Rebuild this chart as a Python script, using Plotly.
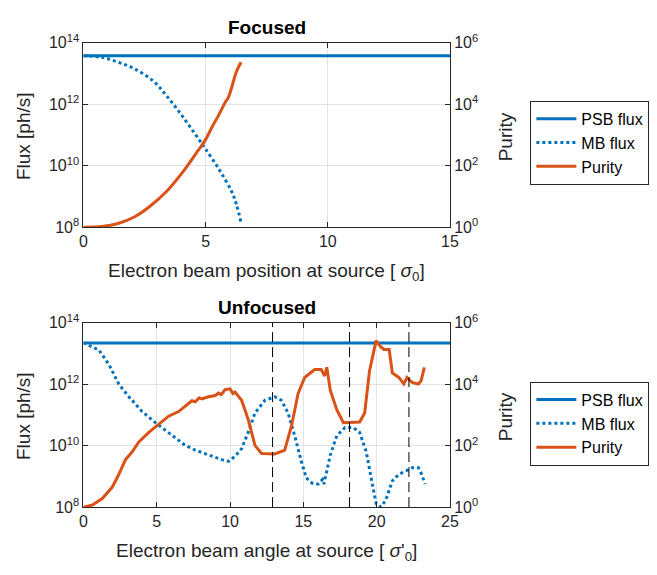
import plotly.graph_objects as go

# ---------------- data ----------------
# Focused
foc_psb_x = [0, 15]
foc_psb = [3.8e13, 3.8e13]
foc_mb_x = [0, 0.76, 1.42, 2.08, 2.88, 3.41, 4.07, 4.73, 5.0, 5.53, 6.06, 6.26, 6.45]
foc_mb = [3.8e13, 3.39e13, 2.34e13, 1.45e13, 5.5e12, 1.86e12, 3.9e11, 7.1e10, 3.47e10, 8.1e9, 1.48e9, 5.6e8, 1.41e8]
foc_pur_x = [0, 0.76, 1.42, 2.08, 2.75, 3.41, 4.07, 4.73, 5.0, 5.27, 5.53, 5.80, 5.93, 6.06, 6.26, 6.45]
foc_pur = [1.0, 1.05, 1.32, 2.14, 5.0, 14.8, 63, 347, 708, 1860, 4370, 11500, 16600, 33900, 115000, 234000]

# Unfocused
unf_psb_x = [0, 25]
unf_psb = [2.2e13, 2.2e13]
unf_mb_x = [0, 1.06, 1.74, 2.42, 3.10, 4.0, 4.91, 5.81, 6.95, 7.62, 8.53, 9.43, 9.89, 10.34, 10.79,
            11.24, 11.70, 12.38, 13.05, 13.5, 13.96, 14.41, 14.86, 15.2, 15.6, 16.0, 16.3, 16.4,
            16.84, 17.28, 17.84, 18.40, 18.84, 19.29, 19.62, 19.96, 20.29, 20.62, 21.07, 21.51,
            21.96, 22.41, 22.85, 23.07, 23.30]
unf_mb = [2.24e13, 1.29e13, 4.4e12, 1.0e12, 3.9e11, 1.29e11, 5.6e10, 2.7e10, 1.02e10, 7.2e9, 5.0e9,
          3.5e9, 3.1e9, 4.5e9, 8.1e9, 2.7e10, 1.15e11, 3.0e11, 3.9e11, 3.0e11, 1.15e11, 2.1e10,
          3.1e9, 8.9e8, 6.0e8, 5.6e8, 7.9e8, 5.6e8, 5.0e9, 2.1e10, 3.9e10, 3.9e10, 2.7e10, 6.3e9,
          9.1e8, 1.32e8, 1.0e8, 1.7e8, 7.2e8, 1.17e9, 1.48e9, 1.9e9, 1.9e9, 1.17e9, 5.6e8]
unf_pur_x = [0, 0.61, 1.29, 1.97, 2.42, 2.87, 3.33, 3.78, 4.46, 5.14, 5.81, 6.49, 7.17, 7.4, 7.62,
             7.9, 8.08, 8.53, 9.0, 9.21, 9.4, 9.66, 10.0, 10.2, 10.34, 10.55, 10.79, 11.24, 11.70,
             12.15, 13.05, 13.73, 14.19, 14.64, 15.09, 15.77, 16.22, 16.45, 16.6, 16.84, 17.28,
             17.73, 18.17, 18.84, 19.18, 19.51, 19.96, 20.29, 20.51, 20.85, 21.07, 21.51, 21.85,
             22.07, 22.41, 22.85, 23.03, 23.25]
unf_pur = [1.0, 1.17, 1.9, 4.5, 11.7, 35, 63, 132, 269, 490, 912, 1290, 2400, 2900, 2690,
           3600, 3300, 3890, 4300, 5130, 4600, 6610, 7080, 5000, 5600, 4300, 3020, 708, 102,
           56, 54, 72, 437, 4900, 16600, 30200, 30200, 18600, 35500, 6310, 1480,
           562, 562, 589, 1150, 26900, 263000, 162000, 135000, 135000, 23400, 16600, 10200,
           16600, 11500, 10200, 12900, 35500]
unf_dashed_x = [12.9, 18.15, 22.2]

flux_tickvals = [1e8, 1e10, 1e12, 1e14]
flux_ticktext = ["10<sup>8</sup>", "10<sup>10</sup>", "10<sup>12</sup>", "10<sup>14</sup>"]
pur_tickvals = [1, 1e2, 1e4, 1e6]
pur_ticktext = ["10<sup>0</sup>", "10<sup>2</sup>", "10<sup>4</sup>", "10<sup>6</sup>"]
names = ["PSB flux", "MB flux", "Purity"]

BLUE = "#0072BD"
ORANGE = "#D95319"
AX = "#262626"
GRID = "#e3e3e3"
FONT = "Liberation Sans, Arial, sans-serif"

W, H = 657, 575
xd = [81 / W, 455 / W]
top_d = [1 - 224 / H, 1 - 33 / H]
bot_d = [1 - 514 / H, 1 - 323 / H]

fig = go.Figure()

def add_panel(psb_x, psb, mb_x, mb, pur_x, pur, xa, ya_flux, ya_pur, legend, smooth):
    shape = "spline" if smooth else "linear"
    fig.add_trace(go.Scatter(x=psb_x, y=psb, mode="lines", name=names[0], xaxis=xa, yaxis=ya_flux,
                             line=dict(color=BLUE, width=3), legend=legend))
    fig.add_trace(go.Scatter(x=mb_x, y=mb, mode="lines", name=names[1], xaxis=xa, yaxis=ya_flux,
                             line=dict(color=BLUE, width=3, dash="dot", shape=shape), legend=legend))
    fig.add_trace(go.Scatter(x=pur_x, y=pur, mode="lines", name=names[2], xaxis=xa, yaxis=ya_pur,
                             line=dict(color=ORANGE, width=3, shape=shape), legend=legend))

add_panel(foc_psb_x, foc_psb, foc_mb_x, foc_mb, foc_pur_x, foc_pur, "x", "y", "y2", "legend", True)
add_panel(unf_psb_x, unf_psb, unf_mb_x, unf_mb, unf_pur_x, unf_pur, "x2", "y3", "y4", "legend2", False)

for xv in unf_dashed_x:
    fig.add_shape(type="line", xref="x2", yref="y3 domain", x0=xv, x1=xv, y0=0, y1=1,
                  line=dict(color="black", width=1, dash="10px,5px"), layer="above")

tickfont = dict(family=FONT, size=16, color=AX)
titlefont = dict(family=FONT, size=19, color=AX)

def xax(domain, anchor, rng, tv):
    return dict(domain=domain, anchor=anchor, range=rng, tickvals=tv, ticks="inside", ticklen=5,
                tickcolor=AX, showline=True, linecolor=AX, linewidth=1, mirror="ticks",
                showgrid=True, gridcolor=GRID, gridwidth=1, zeroline=False, tickfont=tickfont)

def yflux(domain, anchor):
    return dict(domain=domain, anchor=anchor, type="log", range=[8, 14], tickvals=flux_tickvals,
                ticktext=flux_ticktext, ticks="inside", ticklen=5, tickcolor=AX, showline=True,
                linecolor=AX, linewidth=1, showgrid=True, gridcolor=GRID, zeroline=False,
                tickfont=tickfont)

def ypur(over, anchor):
    return dict(overlaying=over, anchor=anchor, side="right", type="log", range=[0, 6],
                tickvals=pur_tickvals, ticktext=pur_ticktext, ticks="inside", ticklen=5, tickcolor=AX,
                showline=True, linecolor=AX, linewidth=1, showgrid=False, zeroline=False,
                tickfont=tickfont)

legstyle = dict(font=dict(family=FONT, size=16, color="black"), bgcolor="white",
                bordercolor=AX, borderwidth=1, xanchor="left", yanchor="top",
                itemwidth=40, tracegroupgap=0)

def ann(text, x, y, angle=0, bold=False, xref="paper"):
    return dict(text=("<b>%s</b>" % text) if bold else text, xref=xref, yref="paper",
                x=x, y=y, showarrow=False, textangle=angle,
                font=dict(family=FONT, size=19, color="black" if bold else AX),
                xanchor="center", yanchor="middle")

annotations = [
    ann("Focused", 0.5, 1 - 17 / H, bold=True, xref="x domain"),
    ann("Unfocused", 0.5, 1 - 307 / H, bold=True, xref="x2 domain"),
    ann("Electron beam position at source [ <i>σ</i><sub>0</sub>]", 0.5, 1 - 270 / H, xref="x domain"),
    ann("Electron beam angle at source [ <i>σ</i>'<sub>0</sub>]", 0.5, 1 - 560 / H, xref="x2 domain"),
    ann("Flux [ph/s]", 20 / W, 1 - 130 / H, angle=-90),
    ann("Flux [ph/s]", 20 / W, 1 - 420 / H, angle=-90),
    ann("Purity", 512 / W, 1 - 130 / H, angle=-90),
    ann("Purity", 512 / W, 1 - 420 / H, angle=-90),
]

fig.update_layout(
    width=W, height=H, margin=dict(l=0, r=0, t=0, b=0),
    paper_bgcolor="white", plot_bgcolor="white",
    font=dict(family=FONT, color=AX),
    xaxis=xax(xd, "y", [0, 15], [0, 5, 10, 15]),
    xaxis2=xax(xd, "y3", [0, 25], [0, 5, 10, 15, 20, 25]),
    yaxis=yflux(top_d, "x"),
    yaxis2=ypur("y", "x"),
    yaxis3=yflux(bot_d, "x2"),
    yaxis4=ypur("y3", "x2"),
    legend=dict(x=537 / W, y=1 - 93 / H, **legstyle),
    legend2=dict(x=537 / W, y=1 - 384 / H, **legstyle),
    annotations=annotations,
)

fig.write_html("out.html")
